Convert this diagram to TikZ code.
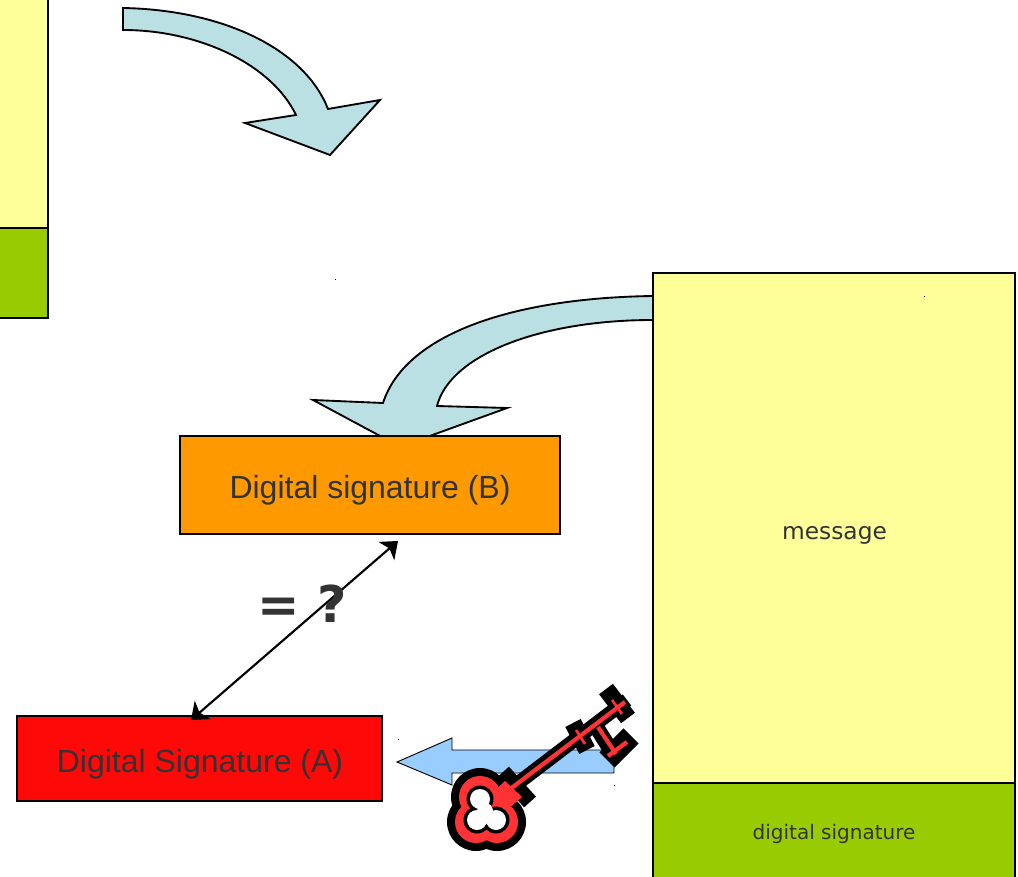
\documentclass[tikz,border=0pt]{standalone}
\usepackage{fontspec}
\setmainfont{Liberation Sans}
\newfontfamily\handfont{DejaVu Sans}
\newfontfamily\boldfont{DejaVu Sans Bold}
\usetikzlibrary{arrows.meta}
\definecolor{paleyellow}{HTML}{FFFF99}
\definecolor{leaf}{HTML}{99CC00}
\definecolor{amber}{HTML}{FF9900}
\definecolor{sigred}{HTML}{FF0808}
\definecolor{skyblue}{HTML}{99CCFF}
\definecolor{paleteal}{HTML}{BBE0E3}
\definecolor{keyred}{HTML}{FF3333}
\definecolor{ink}{HTML}{333333}
\tikzset{
  x=0.75pt,y=-0.75pt,
  panel/.style={draw=black,line width=1.5pt,inner sep=0pt,outer sep=0pt,anchor=north west},
  bendarrow/.style={draw=black,fill=paleteal,line width=1.4pt,line join=miter},
  label/.style={text=ink,inner sep=0pt,font=\fontsize{24pt}{28pt}\selectfont},
  handlabel/.style={text=ink,inner sep=0pt,font=\handfont},
  keyblack/.style={draw=black,line cap=butt},
  keyface/.style={draw=keyred,line cap=butt},
  speck/.style={fill=black,inner sep=0pt,minimum size=0.7pt,shape=rectangle}
}
\begin{document}
\begin{tikzpicture}
\useasboundingbox (0,0) rectangle (1018,877);
\clip (0,0) rectangle (1018,877);
% left cut-off panel
\node[panel,fill=paleyellow,minimum width=60*0.75pt,minimum height=240*0.75pt] (leftmsg) at (-12,-12) {};
\node[panel,fill=leaf,minimum width=60*0.75pt,minimum height=90*0.75pt] (leftsig) at (-12,228) {};
% top curved arrow
\draw[bendarrow] (123,8) .. controls (225,10) and (305,50) .. (328,109) -- (380,100) -- (330,155) -- (245,123) -- (296,115) .. controls (272,65) and (200,30) .. (123,30) -- cycle;
% second curved arrow
\draw[bendarrow] (653,296) .. controls (510,298) and (405,335) .. (383,403) -- (313,400) -- (382,437) -- (427,437) -- (507,408) -- (437,406) .. controls (450,355) and (540,320) .. (653,320) -- cycle;
% right panel
\node[panel,fill=paleyellow,minimum width=362*0.75pt,minimum height=510*0.75pt] (msg) at (653,273) {};
\node[panel,fill=leaf,minimum width=362*0.75pt,minimum height=110*0.75pt] (sig) at (653,783) {};
\node[handlabel,font=\handfont\fontsize{17.5pt}{20pt}\selectfont] (msgtext) at (834.5,535) {message};
\node[handlabel,font=\handfont\fontsize{15pt}{16pt}\selectfont] (sigtext) at (834,834) {digital signature};
% boxes
\node[panel,fill=amber,minimum width=380*0.75pt,minimum height=98*0.75pt] (sigB) at (180,436) {};
\node[panel,fill=sigred,minimum width=365*0.75pt,minimum height=85*0.75pt] (sigA) at (17,716) {};
\node[label] (sigBtext) at (370,490) {Digital signature (B)};
\node[label] (sigAtext) at (200,764) {Digital Signature (A)};
% comparison arrow
\coordinate (endA) at (191,720);
\coordinate (endB) at (398,541);
\draw[line width=1.6pt,{Stealth[length=11.5pt,width=18pt,inset=3pt]}-{Stealth[length=11.5pt,width=18pt,inset=3pt]}] (endA) -- (endB);
\node[text=ink,inner sep=0pt,font=\boldfont\fontsize{38pt}{42pt}\selectfont] (eq) at (302,604) {= ?};
% blue arrow
\draw[draw=black,fill=skyblue,line width=0.7pt] (397,762) -- (452,738) -- (452,750) -- (614,750) -- (614,773) -- (452,773) -- (452,785) -- cycle;
% key: black layer
\fill[black] (480,797) circle (29) (476,822) circle (29) (497,822) circle (29);
\draw[keyblack,line width=10.5pt] (505,793) -- (627,700);
\draw[keyblack,line width=12pt] (503,772) -- (530,802);
\draw[keyblack,line width=13pt] (573,723) -- (587,750);
\draw[keyblack,line width=13pt] (606,689) -- (628,718);
\draw[keyblack,line width=11.5pt] (597,728) -- (612,752);
\draw[keyblack,line width=16pt] (607,760) -- (631,736);
% key: red layer
\fill[keyred] (480,797) circle (21) (476,822) circle (21) (497,822) circle (21);
\fill[keyred] (505,781) -- (522,797) -- (505,812) -- (490,795) -- cycle;
\draw[keyface,line width=3.2pt] (505,793) -- (625,702);
\draw[keyface,line width=2pt] (576,730) -- (585,744);
\draw[keyface,line width=2pt] (612,700) -- (622,714);
\draw[keyface,line width=3.2pt] (598,727) -- (616,754);
\draw[keyface,line width=3.2pt] (608,756) -- (627,742);
% key: hole
\fill[black] (480,799) circle (13.5) (477,820) circle (13.5) (496,820) circle (13.5);
\fill[white] (480,799) circle (10) (477,820) circle (10) (496,820) circle (10) (485,811) circle (8);
% specks
\node[speck] (s1) at (335,279) {};
\node[speck] (s2) at (924,296) {};
\node[speck] (s3) at (398,739) {};
\node[speck] (s4) at (614,785) {};
\end{tikzpicture}
\end{document}
